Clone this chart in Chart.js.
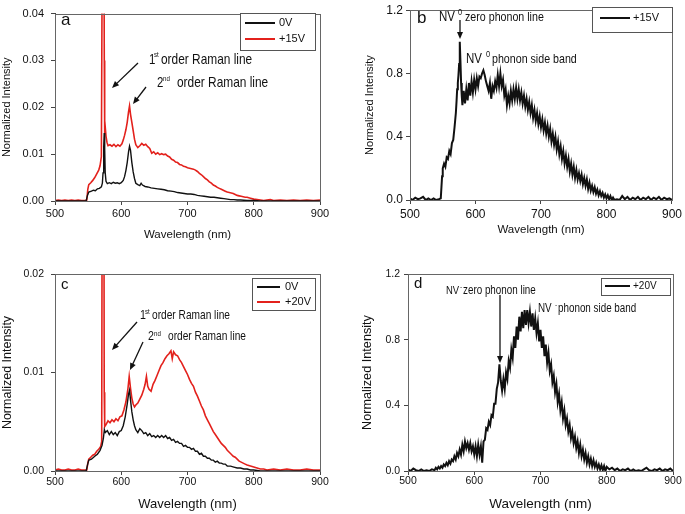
<!DOCTYPE html>
<html>
<head>
<meta charset="utf-8">
<script src="https://cdn.jsdelivr.net/npm/chart.js@4.4.1/dist/chart.umd.min.js"></script>
<style>
  html, body { margin: 0; padding: 0; background: #fff; }
  body { width: 685px; height: 514px; position: relative; overflow: hidden; }
  canvas { position: absolute; }
</style>
</head>
<body>
<canvas id="pa" width="342" height="257" style="left:0;top:0"></canvas>
<canvas id="pb" width="343" height="257" style="left:342px;top:0"></canvas>
<canvas id="pc" width="342" height="257" style="left:0;top:257px"></canvas>
<canvas id="pd" width="343" height="257" style="left:342px;top:257px"></canvas>
<script>
/* ---------- DATA ---------- */
const xTicks = ["500", "600", "700", "800", "900"];
const yTicksA = ["0.00", "0.01", "0.02", "0.03", "0.04"];
const yTicksB = ["0.0", "0.4", "0.8", "1.2"];
const yTicksC = ["0.00", "0.01", "0.02"];
const yTicksD = ["0.0", "0.4", "0.8", "1.2"];

const seriesNames = ["0V", "+15V", "+20V"];

// panel a, 0V
const aWl0 = [500,510,520,530,540,547,549,551,555,558,561,564,567,570,571.5,572.5,573.5,574.3,575,575.8,577,579,582,585,588,591,594,597,600,603,605,607,609,611,612.5,614,616,618,620,622,625,628,630,632,636,640,645,650,655,660,665,670,675,680,685,690,695,700,705,710,715,720,725,730,735,740,745,750,755,760,765,770,775,780,790,800,810,900];
const aInt0 = [0,0,0,0,0,0,0.0012,0.0019,0.0021,0.0023,0.0022,0.0026,0.0027,0.003,0.0038,0.006,0.0115,0.0145,0.011,0.006,0.0042,0.0037,0.0039,0.0037,0.004,0.0038,0.0039,0.0037,0.0039,0.0044,0.0052,0.0065,0.0082,0.0105,0.0117,0.0108,0.0082,0.0062,0.0048,0.0038,0.0035,0.0033,0.0038,0.0034,0.0031,0.003,0.0028,0.0027,0.0026,0.0025,0.0024,0.0022,0.0021,0.002,0.0018,0.0017,0.0016,0.0015,0.0015,0.0014,0.0012,0.0011,0.001,0.0009,0.0008,0.0008,0.0007,0.0006,0.0005,0.0004,0.0003,0.0003,0.0002,0.0002,0.0001,0.0001,0,0];

// panel a, +15V
const aWl1 = [500,505,510,515,520,525,530,535,540,545,548,549.5,551,554,557,560,563,566,568,570,571.2,572,573,573.8,574.4,575,576,577,578.5,580,583,586,589,592,595,598,601,603,605,607,609,611,612.5,614,616,618,620,622,625,628,631,634,637,640,643,646,649,652,655,658,661,664,667,670,673,676,679,682,685,688,691,694,697,700,703,706,709,712,715,718,721,724,727,730,733,736,739,742,745,748,751,754,757,760,763,766,769,772,775,778,781,784,787,790,795,800,805,810,815,820,825,830,840,850,860,870,880,890,900];
const aInt1 = [0.0001,0.0002,0.0001,0.0002,0.0001,0.0002,0.0001,0.0002,0.0001,0.0001,0.0002,0.0025,0.0035,0.0039,0.0044,0.005,0.0058,0.0066,0.0075,0.0095,0.05,0.065,0.065,0.06,0.03,0.0145,0.0155,0.0138,0.0125,0.0118,0.012,0.0117,0.0121,0.0116,0.012,0.0117,0.0122,0.013,0.014,0.0152,0.0168,0.019,0.0203,0.0185,0.0168,0.015,0.0132,0.012,0.0114,0.0118,0.0123,0.0119,0.0121,0.0116,0.0112,0.0102,0.0105,0.01,0.0103,0.0099,0.0101,0.0099,0.01,0.0096,0.0094,0.0089,0.0087,0.0083,0.0082,0.0078,0.0077,0.0074,0.0073,0.0071,0.007,0.0069,0.0068,0.0066,0.0063,0.0059,0.0056,0.0052,0.0048,0.0045,0.0041,0.0038,0.0034,0.0032,0.0029,0.0027,0.0025,0.0023,0.0021,0.0019,0.0018,0.0017,0.0016,0.0014,0.0012,0.0011,0.001,0.0009,0.0008,0.0008,0.0006,0.0004,0.0003,0.0002,0.0001,0.0002,0.0003,0.0001,0.0002,0.0001,0.0002,0.0001,0.0002,0.0001,0.0002];

// panel b, +15V
const bWl = [
  500,504,508,512,516,520,524,528,532,536,
  540,544,547,549,550,552,554,556,558,560,
  562,564,566,568,570,571,572,573,574,575,
  576,577,578,579,
  580,582,584,586,588,590,592,594,596,598,
  600,602,604,606,608,610,612,614,616,618,
  620,622,624,626,628,630,632,634,636,638,
  640,642,644,646,648,650,652,654,656,658,
  660,662,664,666,668,670,672,674,676,678,
  680,682,684,686,688,690,692,694,696,698,
  700,702,704,706,708,710,712,714,716,718,
  720,722,724,726,728,730,732,734,736,738,
  740,742,744,746,748,750,752,754,756,758,
  760,762,764,766,768,770,772,774,776,778,
  780,782,784,786,788,790,792,794,796,798,
  800,802,804,806,808,810,812,
  816,820,824,828,832,836,840,844,848,852,
  856,860,864,868,872,876,880,884,888,892,
  896,900];
const bInt = [
  0.01,0.0,0.015,0.005,0.01,0.02,0.0,0.01,0.0,0.01,
  0.0,0.005,0.01,0.15,0.2,0.23,0.21,0.27,0.26,0.31,
  0.29,0.36,0.38,0.46,0.55,0.62,0.7,0.74,0.79,0.86,
  1.0,0.88,0.74,0.66,
  0.6,0.69,0.61,0.7,0.63,0.74,0.66,0.75,0.68,0.76,
  0.7,0.77,0.72,0.78,0.77,0.8,0.82,0.79,0.75,0.72,
  0.69,0.74,0.64,0.72,0.69,0.75,0.71,0.79,0.72,0.8,
  0.72,0.76,0.66,0.7,0.6,0.66,0.61,0.69,0.63,0.7,
  0.64,0.71,0.64,0.7,0.63,0.68,0.61,0.66,0.59,0.64,
  0.57,0.62,0.55,0.6,0.52,0.57,0.5,0.55,0.48,0.53,
  0.46,0.51,0.44,0.49,0.42,0.47,0.4,0.45,0.37,0.42,
  0.35,0.4,0.32,0.37,0.29,0.34,0.26,0.31,0.23,0.28,
  0.21,0.26,0.18,0.23,0.16,0.21,0.14,0.19,0.13,0.17,
  0.12,0.16,0.1,0.14,0.09,0.13,0.07,0.11,0.06,0.09,
  0.05,0.08,0.04,0.065,0.03,0.055,0.025,0.045,0.015,0.035,
  0.01,0.03,0.005,0.025,0.0,0.015,0.0,
  0.005,0.0,0.025,0.005,0.02,0.0,0.015,0.005,0.02,0.0,
  0.015,0.005,0.02,0.0,0.015,0.005,0.02,0.0,0.015,0.005,
  0.01,0.0];

// panel c, 0V
const cWl0 = [500,520,540,547,549,551,555,560,564,568,571,573,574.5,576,579,582,585,588,591,594,597,600,603,606,609,611,612.5,614,616,618,620,622,625,628,631,634,637,640,643,646,649,652,655,658,661,664,667,670,673,676,679,682,685,688,691,694,697,700,703,706,709,712,715,718,721,724,727,730,733,736,739,742,745,748,751,754,757,760,765,770,775,780,785,790,795,800,810,900];
const cInt0 = [0,0,0,0,0.0006,0.0011,0.0012,0.0015,0.0017,0.0021,0.0026,0.0033,0.0042,0.0039,0.0041,0.0037,0.004,0.0037,0.0039,0.0036,0.004,0.0041,0.0046,0.0055,0.0068,0.0078,0.0082,0.0072,0.006,0.0052,0.0046,0.0042,0.0039,0.0043,0.0041,0.0038,0.0039,0.0036,0.0038,0.0035,0.0036,0.0034,0.0036,0.0034,0.0036,0.0034,0.0036,0.0033,0.0034,0.0031,0.0032,0.0029,0.003,0.0028,0.0028,0.0025,0.0026,0.0024,0.0024,0.0022,0.0023,0.002,0.002,0.0017,0.0018,0.0015,0.0015,0.0013,0.0013,0.0011,0.0011,0.0009,0.001,0.0008,0.0008,0.0007,0.0007,0.0005,0.0005,0.0004,0.0003,0.0003,0.0002,0.0002,0.0001,0.0001,0,0];

// panel c, +20V
const cWl1 = [500,505,510,515,520,525,530,535,540,545,548,549.5,551,554,557,560,563,566,569,570.5,571.2,571.9,573,573.8,574.3,575,577,580,583,586,589,592,595,598,601,604,607,610,612,614,616,618,620,622,625,628,631,634,636,638,640,642,645,648,651,654,657,660,663,666,669,672,675,677,679,682,685,688,691,694,697,700,703,706,709,712,715,718,721,724,727,730,733,736,739,742,745,748,751,754,757,760,763,766,769,772,775,778,781,784,787,790,795,800,805,810,815,820,830,840,850,860,870,880,890,900];
const cInt1 = [0.0001,0.0002,0.0001,0.0001,0.0002,0.0001,0.0001,0.0002,0.0001,0.0001,0.0001,0.0008,0.0012,0.0014,0.0016,0.0017,0.002,0.0022,0.0025,0.003,0.03,0.045,0.045,0.03,0.008,0.0045,0.0047,0.0051,0.0049,0.0052,0.005,0.0053,0.0051,0.0055,0.0056,0.0062,0.007,0.0083,0.0096,0.0084,0.0074,0.0068,0.0065,0.0067,0.0069,0.0073,0.0077,0.0083,0.0088,0.0096,0.0086,0.0083,0.0081,0.0088,0.0092,0.0097,0.0102,0.0107,0.011,0.0114,0.0117,0.0119,0.0122,0.0114,0.0121,0.0118,0.0117,0.0113,0.011,0.0106,0.0102,0.0098,0.0093,0.0089,0.0086,0.008,0.0076,0.0071,0.0066,0.0062,0.0056,0.0052,0.0048,0.0044,0.004,0.0037,0.0034,0.0031,0.0028,0.0026,0.0024,0.0021,0.0019,0.0017,0.0015,0.0014,0.0012,0.001,0.0009,0.0008,0.0007,0.0006,0.0005,0.0004,0.0003,0.0002,0.0002,0.0001,0.0002,0.0001,0.0002,0.0001,0.0001,0.0002,0.0001,0.0001];

// panel d, +20V
const dWl = [
  500,504,508,512,516,520,524,528,532,536,
  540,542,544,546,548,550,552,554,556,558,
  560,562,564,566,568,570,572,574,576,578,
  580,582,584,586,588,590,592,594,596,598,
  600,602,604,606,608,610,612,614,616,618,
  620,622,624,626,628,630,632,634,636,638,
  640,642,644,646,648,650,652,654,656,658,
  660,662,664,666,668,670,672,674,676,678,
  680,682,684,686,688,690,692,694,696,698,
  700,702,704,706,708,710,712,714,716,718,
  720,722,724,726,728,730,732,734,736,738,
  740,742,744,746,748,750,752,754,756,758,
  760,762,764,766,768,770,772,774,776,778,
  780,782,784,786,788,790,792,794,796,798,
  800,804,808,812,816,820,824,828,832,836,
  840,844,848,852,856,860,864,868,872,876,
  880,884,888,892,896,900];
const dInt = [
  0.01,0.0,0.015,0.005,0.0,0.01,0.0,0.005,0.0,0.01,
  0.005,0.02,0.01,0.025,0.015,0.03,0.02,0.04,0.03,0.05,
  0.035,0.06,0.045,0.07,0.06,0.09,0.07,0.11,0.09,0.13,
  0.1,0.16,0.12,0.18,0.14,0.17,0.13,0.17,0.12,0.15,
  0.1,0.15,0.09,0.16,0.1,0.15,0.05,0.18,0.19,0.26,
  0.25,0.3,0.28,0.34,0.33,0.41,0.41,0.5,0.54,0.65,
  0.55,0.49,0.56,0.5,0.6,0.56,0.67,0.63,0.74,0.69,
  0.82,0.75,0.88,0.8,0.94,0.85,0.97,0.87,0.98,0.89,
  0.98,0.9,0.97,0.88,0.96,0.86,0.93,0.84,0.9,0.79,
  0.86,0.75,0.82,0.7,0.77,0.66,0.72,0.61,0.65,0.54,
  0.58,0.48,0.53,0.42,0.47,0.37,0.42,0.32,0.37,0.28,
  0.32,0.24,0.28,0.2,0.24,0.17,0.21,0.14,0.18,0.11,
  0.16,0.09,0.13,0.07,0.11,0.05,0.09,0.04,0.075,0.03,
  0.065,0.025,0.05,0.015,0.04,0.01,0.035,0.005,0.03,0.0,
  0.025,0.01,0.02,0.005,0.015,0.0,0.01,0.005,0.015,0.0,
  0.01,0.0,0.005,0.0,0.01,0.02,0.005,0.0,0.01,0.005,
  0.015,0.0,0.01,0.005,0.015,0.0];

/* ---------- HELPERS ---------- */
const BLACK = "#111111";
const RED = "#e3211c";
const FONT = "'Liberation Sans', Arial, sans-serif";

function pts(wl, vals) {
  return wl.map((w, i) => ({ x: w, y: vals[i] }));
}

// frame, legend box and annotations drawn over the plot
const panelDecor = {
  id: "panelDecor",
  afterDraw(chart, args, opts) {
    const ctx = chart.ctx;
    const a = chart.chartArea;
    const ox = opts.offset[0], oy = opts.offset[1];
    ctx.save();
    ctx.strokeStyle = "#666";
    ctx.lineWidth = 1;
    ctx.strokeRect(Math.round(a.left) + 0.5, Math.round(a.top) + 0.5,
      Math.round(a.right - a.left), Math.round(a.bottom - a.top));

    // legend
    const lg = opts.legend;
    ctx.fillStyle = "#fff";
    ctx.fillRect(lg.box[0] - ox, lg.box[1] - oy, lg.box[2] - lg.box[0], lg.box[3] - lg.box[1]);
    ctx.strokeStyle = "#555";
    ctx.strokeRect(lg.box[0] - ox + 0.5, lg.box[1] - oy + 0.5, lg.box[2] - lg.box[0], lg.box[3] - lg.box[1]);
    chart.data.datasets.forEach((ds, i) => {
      const y = lg.rows[i] - oy;
      ctx.strokeStyle = ds.borderColor;
      ctx.lineWidth = 2;
      ctx.beginPath();
      ctx.moveTo(lg.line[0] - ox, y);
      ctx.lineTo(lg.line[1] - ox, y);
      ctx.stroke();
      ctx.fillStyle = "#111";
      ctx.font = lg.size + "px " + FONT;
      ctx.textBaseline = "middle";
      ctx.textAlign = "left";
      ctx.fillText(ds.label, lg.text - ox, y);
    });

    // notes
    opts.notes.forEach(n => {
      if (n.t === "text") {
        ctx.save();
        ctx.translate(n.x - ox, n.y - oy);
        ctx.scale(n.sx || 1, 1);
        ctx.fillStyle = "#111";
        ctx.font = n.size + "px " + FONT;
        ctx.textBaseline = "alphabetic";
        ctx.textAlign = "left";
        ctx.fillText(n.s, 0, 0);
        ctx.restore();
      } else {
        const x1 = n.x1 - ox, y1 = n.y1 - oy, x2 = n.x2 - ox, y2 = n.y2 - oy;
        const ang = Math.atan2(y2 - y1, x2 - x1);
        const hl = 7, hw = 3;
        ctx.strokeStyle = "#111";
        ctx.fillStyle = "#111";
        ctx.lineWidth = 1.3;
        ctx.beginPath();
        ctx.moveTo(x1, y1);
        ctx.lineTo(x2 - Math.cos(ang) * hl * 0.8, y2 - Math.sin(ang) * hl * 0.8);
        ctx.stroke();
        ctx.beginPath();
        ctx.moveTo(x2, y2);
        ctx.lineTo(x2 - Math.cos(ang) * hl - Math.sin(ang) * hw, y2 - Math.sin(ang) * hl + Math.cos(ang) * hw);
        ctx.lineTo(x2 - Math.cos(ang) * hl + Math.sin(ang) * hw, y2 - Math.sin(ang) * hl - Math.cos(ang) * hw);
        ctx.closePath();
        ctx.fill();
      }
    });
    ctx.restore();
  }
};

function makePanel(id, p) {
  new Chart(document.getElementById(id), {
    type: "line",
    data: { datasets: p.datasets },
    plugins: [panelDecor],
    options: {
      responsive: false,
      animation: false,
      devicePixelRatio: 1,
      layout: { padding: { left: 0, right: p.padRight, top: p.padTop, bottom: 0 } },
      elements: { point: { radius: 0 }, line: { tension: 0 } },
      plugins: {
        legend: { display: false },
        tooltip: { enabled: false },
        panelDecor: { offset: p.offset, legend: p.legend, notes: p.notes }
      },
      scales: {
        x: {
          type: "linear",
          min: 500, max: 900,
          afterFit: s => { s.height = p.xH; },
          ticks: {
            stepSize: 100,
            padding: p.xPad,
            color: "#111",
            font: { family: FONT, size: p.tickSize },
            maxRotation: 0,
            callback: (v, i) => xTicks[i]
          },
          grid: { drawOnChartArea: false, tickLength: 4, tickColor: "#444" },
          border: { color: "#444" },
          title: {
            display: true, text: "Wavelength (nm)", color: "#111",
            font: { family: FONT, size: p.titleSize },
            padding: { top: 0, bottom: p.xTitlePad }
          }
        },
        y: {
          min: 0, max: p.yMax,
          afterFit: s => { s.width = p.yW; },
          ticks: {
            stepSize: p.yStep,
            padding: p.yPad,
            color: "#111",
            font: { family: FONT, size: p.tickSize },
            callback: (v, i) => p.yLabels[i]
          },
          grid: { drawOnChartArea: false, tickLength: 4, tickColor: "#444" },
          border: { color: "#444" },
          title: {
            display: true, text: "Normalized Intensity", color: "#111",
            font: { family: FONT, size: p.yTitleSize },
            padding: { top: p.yTitlePad, bottom: 0 }
          }
        }
      }
    }
  });
}

const NAR = 0.82;

/* ---------- PANEL A ---------- */
makePanel("pa", {
  offset: [0, 0],
  padRight: 22, padTop: 8, xH: 56, yW: 55,
  xPad: 2, yPad: 7, tickSize: 11, titleSize: 11.5, yTitleSize: 11,
  xTitlePad: 15, yTitlePad: 0,
  yMax: 0.04, yStep: 0.01, yLabels: yTicksA,
  datasets: [
    { label: seriesNames[0], data: pts(aWl0, aInt0), borderColor: BLACK, borderWidth: 1.4, order: 0 },
    { label: seriesNames[1], data: pts(aWl1, aInt1), borderColor: RED, borderWidth: 1.6, order: 1 }
  ],
  legend: { box: [240, 13, 315, 50], rows: [23, 39], line: [245, 275], text: 279, size: 11 },
  notes: [
    { t: "text", s: "a", x: 61, y: 25, size: 17 },
    { t: "text", s: "1", x: 149, y: 64, size: 14, sx: NAR },
    { t: "text", s: "st", x: 154, y: 57, size: 7.5, sx: NAR },
    { t: "text", s: "order Raman line", x: 161, y: 64, size: 14.5, sx: NAR },
    { t: "arrow", x1: 138, y1: 63, x2: 112, y2: 88 },
    { t: "text", s: "2", x: 157, y: 87, size: 14, sx: NAR },
    { t: "text", s: "nd", x: 163, y: 81, size: 7.5, sx: NAR },
    { t: "text", s: "order Raman line", x: 177, y: 87, size: 14.5, sx: NAR },
    { t: "arrow", x1: 146, y1: 87, x2: 133, y2: 104 }
  ]
});

/* ---------- PANEL B ---------- */
makePanel("pb", {
  offset: [342, 0],
  padRight: 10, padTop: 7, xH: 57, yW: 68,
  xPad: 3, yPad: 3, tickSize: 12, titleSize: 11.5, yTitleSize: 11,
  xTitlePad: 20, yTitlePad: 21,
  yMax: 1.2, yStep: 0.4, yLabels: yTicksB,
  datasets: [
    { label: seriesNames[1], data: pts(bWl, bInt), borderColor: BLACK, borderWidth: 2 }
  ],
  legend: { box: [592, 7, 672, 32], rows: [18], line: [600, 630], text: 633, size: 11 },
  notes: [
    { t: "text", s: "b", x: 417, y: 23, size: 17 },
    { t: "text", s: "NV", x: 439, y: 21, size: 14, sx: NAR },
    { t: "text", s: "0", x: 458, y: 15, size: 9, sx: NAR },
    { t: "text", s: "zero phonon line", x: 465, y: 21, size: 13, sx: NAR },
    { t: "arrow", x1: 460, y1: 20, x2: 460, y2: 39 },
    { t: "text", s: "NV", x: 466, y: 63, size: 14, sx: NAR },
    { t: "text", s: "0", x: 486, y: 57, size: 9, sx: NAR },
    { t: "text", s: "phonon side band", x: 492, y: 63, size: 13, sx: NAR }
  ]
});

/* ---------- PANEL C ---------- */
makePanel("pc", {
  offset: [0, 257],
  padRight: 22, padTop: 17, xH: 43, yW: 55,
  xPad: 1, yPad: 7, tickSize: 10.5, titleSize: 13, yTitleSize: 12.5,
  xTitlePad: 2, yTitlePad: 0,
  yMax: 0.02, yStep: 0.01, yLabels: yTicksC,
  datasets: [
    { label: seriesNames[0], data: pts(cWl0, cInt0), borderColor: BLACK, borderWidth: 1.4, order: 0 },
    { label: seriesNames[2], data: pts(cWl1, cInt1), borderColor: RED, borderWidth: 1.6, order: 1 }
  ],
  legend: { box: [252, 278, 315, 310], rows: [287, 302], line: [257, 280], text: 285, size: 11 },
  notes: [
    { t: "text", s: "c", x: 61, y: 289, size: 15 },
    { t: "text", s: "1", x: 140, y: 319, size: 13, sx: NAR },
    { t: "text", s: "st", x: 145, y: 314, size: 7.5, sx: NAR },
    { t: "text", s: "order Raman line", x: 152, y: 319, size: 12.4, sx: NAR },
    { t: "arrow", x1: 137, y1: 322, x2: 112, y2: 350 },
    { t: "text", s: "2", x: 148, y: 340, size: 13, sx: NAR },
    { t: "text", s: "nd", x: 154, y: 336, size: 7.5, sx: NAR },
    { t: "text", s: "order Raman line", x: 168, y: 340, size: 12.4, sx: NAR },
    { t: "arrow", x1: 143, y1: 342, x2: 130, y2: 370 }
  ]
});

/* ---------- PANEL D ---------- */
makePanel("pd", {
  offset: [342, 257],
  padRight: 12, padTop: 17, xH: 43, yW: 66,
  xPad: 0, yPad: 4, tickSize: 10.5, titleSize: 13.5, yTitleSize: 12.7,
  xTitlePad: 2, yTitlePad: 18,
  yMax: 1.2, yStep: 0.4, yLabels: yTicksD,
  datasets: [
    { label: seriesNames[2], data: pts(dWl, dInt), borderColor: BLACK, borderWidth: 2 }
  ],
  legend: { box: [601, 278, 670, 295], rows: [286], line: [605, 630], text: 633, size: 10 },
  notes: [
    { t: "text", s: "d", x: 414, y: 288, size: 15 },
    { t: "text", s: "NV", x: 446, y: 294, size: 11.5, sx: NAR },
    { t: "text", s: "-", x: 460, y: 289, size: 8, sx: NAR },
    { t: "text", s: "zero phonon line", x: 463, y: 294, size: 12, sx: NAR },
    { t: "arrow", x1: 500, y1: 295, x2: 500, y2: 363 },
    { t: "text", s: "NV", x: 538, y: 312, size: 12, sx: NAR },
    { t: "text", s: "-", x: 555, y: 307, size: 8, sx: NAR },
    { t: "text", s: "phonon side band", x: 558, y: 312, size: 12, sx: NAR }
  ]
});
</script>
</body>
</html>
